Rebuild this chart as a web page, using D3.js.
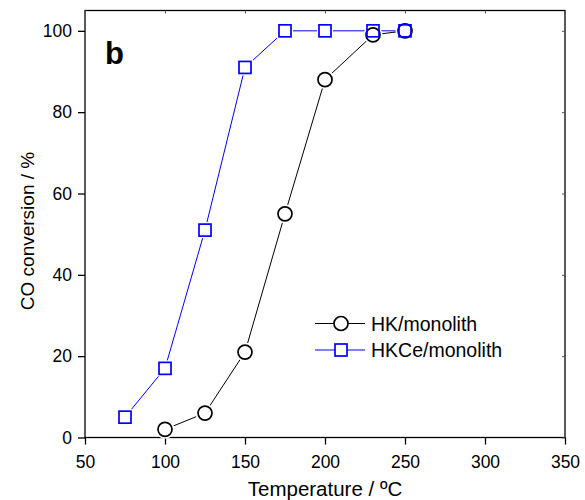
<!DOCTYPE html>
<html><head><meta charset="utf-8">
<script src="https://cdn.jsdelivr.net/npm/d3@7"></script>
<style>body{margin:0;background:#fff}svg{display:block}text{font-family:"Liberation Sans",Arial,sans-serif}</style>
</head><body><svg id="c" width="585" height="500"></svg>
<script>
const xTicks=[50,100,150,200,250,300,350];
const yTicks=[0,20,40,60,80,100];
const hkT=[100,125,150,175,200,230,250];
const hkV=[2,6,21,55,88,99,100];
const hkceT=[75,100,125,150,175,200,230,250];
const hkceV=[5,17,51,91,100,100,100,100];
const seriesNames=["HK/monolith","HKCe/monolith"];

const svg=d3.select("#c");
const L=85,R=565,T=10.5,B=437.5;
const x=d3.scaleLinear().domain([50,350]).range([L,R]);
const y=d3.scaleLinear().domain([0,105]).range([B,T]);

svg.append("rect").attr("x",L).attr("y",T).attr("width",R-L).attr("height",B-T).attr("fill","none").attr("stroke","#000").attr("stroke-width",1.3);

const xa=svg.append("g").attr("transform",`translate(0,${B})`).call(d3.axisBottom(x).tickValues(xTicks).tickSize(7).tickPadding(11));
const ya=svg.append("g").attr("transform",`translate(${L},0)`).call(d3.axisLeft(y).tickValues(yTicks).tickSize(7).tickPadding(6));
[xa,ya].forEach(a=>{a.attr("font-size",null).attr("font-family",null);a.select(".domain").remove();a.selectAll("line").attr("stroke","#000").attr("stroke-width",1.3);a.selectAll("text").attr("font-size",17.5).attr("fill","#000");});
// mirrored inner ticks
svg.append("g").attr("transform",`translate(0,${T})`).call(d3.axisTop(x).tickValues(xTicks).tickSize(-3).tickFormat("")).call(g=>{g.select(".domain").remove();g.selectAll("line").attr("stroke","#555");});
svg.append("g").attr("transform",`translate(${R},0)`).call(d3.axisRight(y).tickValues(yTicks).tickSize(-3).tickFormat("")).call(g=>{g.select(".domain").remove();g.selectAll("line").attr("stroke","#555");});

svg.append("text").attr("x",(L+R)/2).attr("y",496).attr("text-anchor","middle").attr("font-size",20.5).text("Temperature / ºC");
svg.append("text").attr("transform",`translate(34,231) rotate(-90)`).attr("text-anchor","middle").attr("font-size",19).text("CO conversion / %");
svg.append("text").attr("x",105).attr("y",64).attr("font-size",31).attr("font-weight","bold").text("b");

const line=d3.line().x(d=>x(d[0])).y(d=>y(d[1]));
const hk=hkT.map((t,i)=>[t,hkV[i]]);
const hkce=hkceT.map((t,i)=>[t,hkceV[i]]);

svg.append("path").datum(hk).attr("d",line).attr("fill","none").attr("stroke","#000").attr("stroke-width",1);
svg.append("path").datum(hkce).attr("d",line).attr("fill","none").attr("stroke","#0000ff").attr("stroke-width",1);

// white halos to create gaps
svg.append("g").selectAll("circle").data(hk).join("circle").attr("cx",d=>x(d[0])).attr("cy",d=>y(d[1])).attr("r",9.5).attr("fill","#fff");
svg.append("g").selectAll("rect").data(hkce).join("rect").attr("x",d=>x(d[0])-8).attr("y",d=>y(d[1])-8).attr("width",16).attr("height",16).attr("fill","#fff");
svg.append("g").selectAll("circle").data(hk).join("circle").attr("cx",d=>x(d[0])).attr("cy",d=>y(d[1])).attr("r",7).attr("fill","none").attr("stroke","#000").attr("stroke-width",1.7);
svg.append("g").selectAll("rect").data(hkce).join("rect").attr("x",d=>x(d[0])-6).attr("y",d=>y(d[1])-6).attr("width",12).attr("height",12).attr("fill","none").attr("stroke","#0000ff").attr("stroke-width",1.7);

// legend
const lg=svg.append("g");
[[0,"#000"],[1,"#0000ff"]].forEach(([i,c])=>{
  const ly=323.5+i*26.5;
  lg.append("line").attr("x1",315).attr("x2",365).attr("y1",ly).attr("y2",ly).attr("stroke",c).attr("stroke-width",1);
  if(i===0) lg.append("circle").attr("cx",341).attr("cy",ly).attr("r",7).attr("fill","#fff").attr("stroke",c).attr("stroke-width",1.7);
  else lg.append("rect").attr("x",335).attr("y",ly-6).attr("width",12).attr("height",12).attr("fill","#fff").attr("stroke",c).attr("stroke-width",1.7);
  lg.append("text").attr("x",371).attr("y",ly+7).attr("font-size",19.5).text(seriesNames[i]);
});
</script></body></html>
